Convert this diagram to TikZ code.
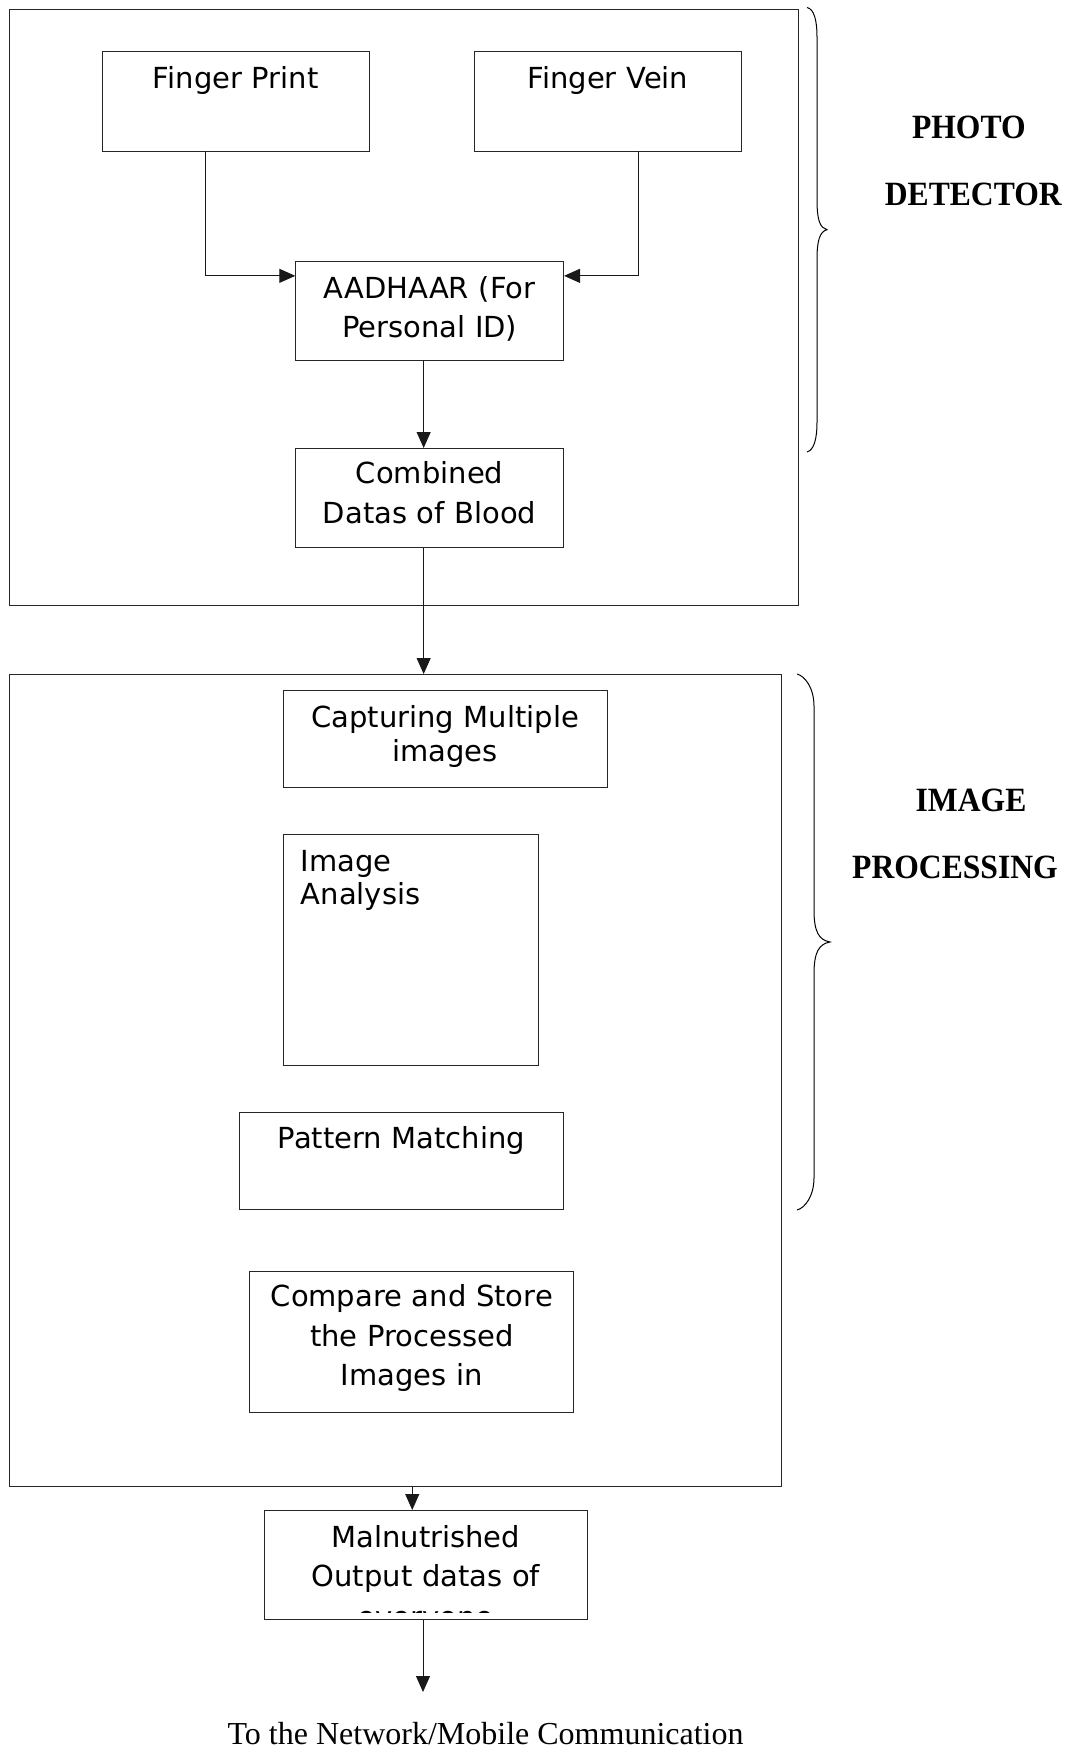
\documentclass[tikz,border=0pt]{standalone}
\usepackage{fontspec}
\usepackage{tikz}
\usetikzlibrary{arrows.meta}
\newfontfamily\boxfont{DejaVu Sans}
\newfontfamily\tagfont{Liberation Serif}[FakeStretch=0.93]
\newfontfamily\notefont{Liberation Serif}

\begin{document}
\begin{tikzpicture}[x=1pt,y=-1pt,line width=1pt,
  frame/.style={draw=black!85,inner sep=0pt,anchor=north west},
  block/.style n args={4}{draw=black!85,inner sep=0pt,anchor=north west,align=center,
    text width=#1,text height=#2,text depth=#3,
    font=\boxfont\fontsize{29pt}{#4}\selectfont},
  tag/.style={anchor=base,font=\tagfont\bfseries\fontsize{34pt}{40pt}\selectfont},
  arr/.style={draw=black!90,-{Triangle[length=16pt,width=14pt]}}]
\useasboundingbox (0,0) rectangle (1072,1749);
% the two big frames
\node[frame,minimum width=788.5pt,minimum height=596pt] (pd) at (9,8.5) {};
\node[frame,minimum width=772.4pt,minimum height=811.5pt] (ip) at (9,674) {};
% the boxes of the photo detector
\node[block={267.5pt}{37.8pt}{62.3pt}{39.5pt}] (fp) at (101.5,50.5) {Finger Print};
\node[block={267pt}{37.8pt}{62.3pt}{39.5pt}] (fv) at (474,50.5) {Finger Vein};
\node[block={267.7pt}{37pt}{62.3pt}{39.5pt}] (aad) at (295.3,260.7) {AADHAAR (For\\Personal ID)};
\node[block={267.7pt}{35.3pt}{63.7pt}{39.5pt}] (cmb) at (295.3,448) {Combined\\Datas of Blood};
% the boxes of the image processing
\node[block={324pt}{36.7pt}{60.6pt}{34.3pt}] (cap) at (282.7,690) {Capturing Multiple\\images};
\node[block={220.4pt}{36.7pt}{194.3pt}{33.3pt},align=left,inner xsep=17pt] (ia) at (283.3,834) {Image\\Analysis};
\node[block={323.4pt}{36.3pt}{60.4pt}{39.5pt}] (pm) at (239.3,1112) {Pattern Matching};
\node[block={324pt}{35.3pt}{105.7pt}{39.5pt}] (cs) at (249.3,1270.7) {Compare and Store\\the Processed\\Images in};
% the output box, its last line is cut by the box
\node[block={322.7pt}{36.7pt}{72.3pt}{39.5pt}] (mal) at (264,1510) {Malnutrished\\Output datas of};
\begin{scope}
\clip (mal.north west) rectangle ([yshift=8pt]mal.south east);
\node[anchor=base,font=\boxfont\fontsize{29pt}{39.5pt}\selectfont] (rest) at ([yshift=-80pt]mal.base) {everyone};
\end{scope}
% the arrows
\draw[arr] ([xshift=-30.25pt]fp.south) |- ([yshift=35pt]aad.west);
\draw[arr] ([xshift=30.5pt]fv.south) |- ([yshift=35pt]aad.east);
\draw[arr] ([xshift=-6pt]aad.south) -- ([xshift=-6pt]cmb.north);
\draw[arr] ([xshift=-6pt]cmb.south) -- ([xshift=-6pt]cmb.south |- ip.north);
\draw[arr] ([xshift=-13.6pt]mal.north |- ip.south) -- ([xshift=-13.6pt]mal.north);
\coordinate (tip) at (423,1692);
\draw[arr] (tip |- mal.south) -- (tip);
% the braces
\draw (807,7.5) .. controls (814,9) and (817,20) .. (817,37) -- (817,200)
  .. controls (817,220) and (820,228) .. (827,229.7)
  .. controls (820,231.5) and (817,240) .. (817,259) -- (817,422)
  .. controls (817,439) and (814,450) .. (807,452);
\draw (797,674) .. controls (805,676) and (814,688) .. (814,706) -- (814,910)
  .. controls (814,932) and (819,940) .. (830,942)
  .. controls (819,944) and (814,952) .. (814,974) -- (814,1178)
  .. controls (814,1196) and (805,1208) .. (797,1210);
% the labels
\node[tag] (pdtop) at (968.8,138.3) {PHOTO};
\node[tag] (pdbot) at (973.3,205) {DETECTOR};
\node[tag] (iptop) at (971,811.8) {IMAGE};
\node[tag] (ipbot) at (955,878.6) {PROCESSING};
\node[anchor=base,font=\notefont\fontsize{32pt}{38pt}\selectfont] (net) at (485.6,1744) {To the Network/Mobile Communication};
\end{tikzpicture}
\end{document}
